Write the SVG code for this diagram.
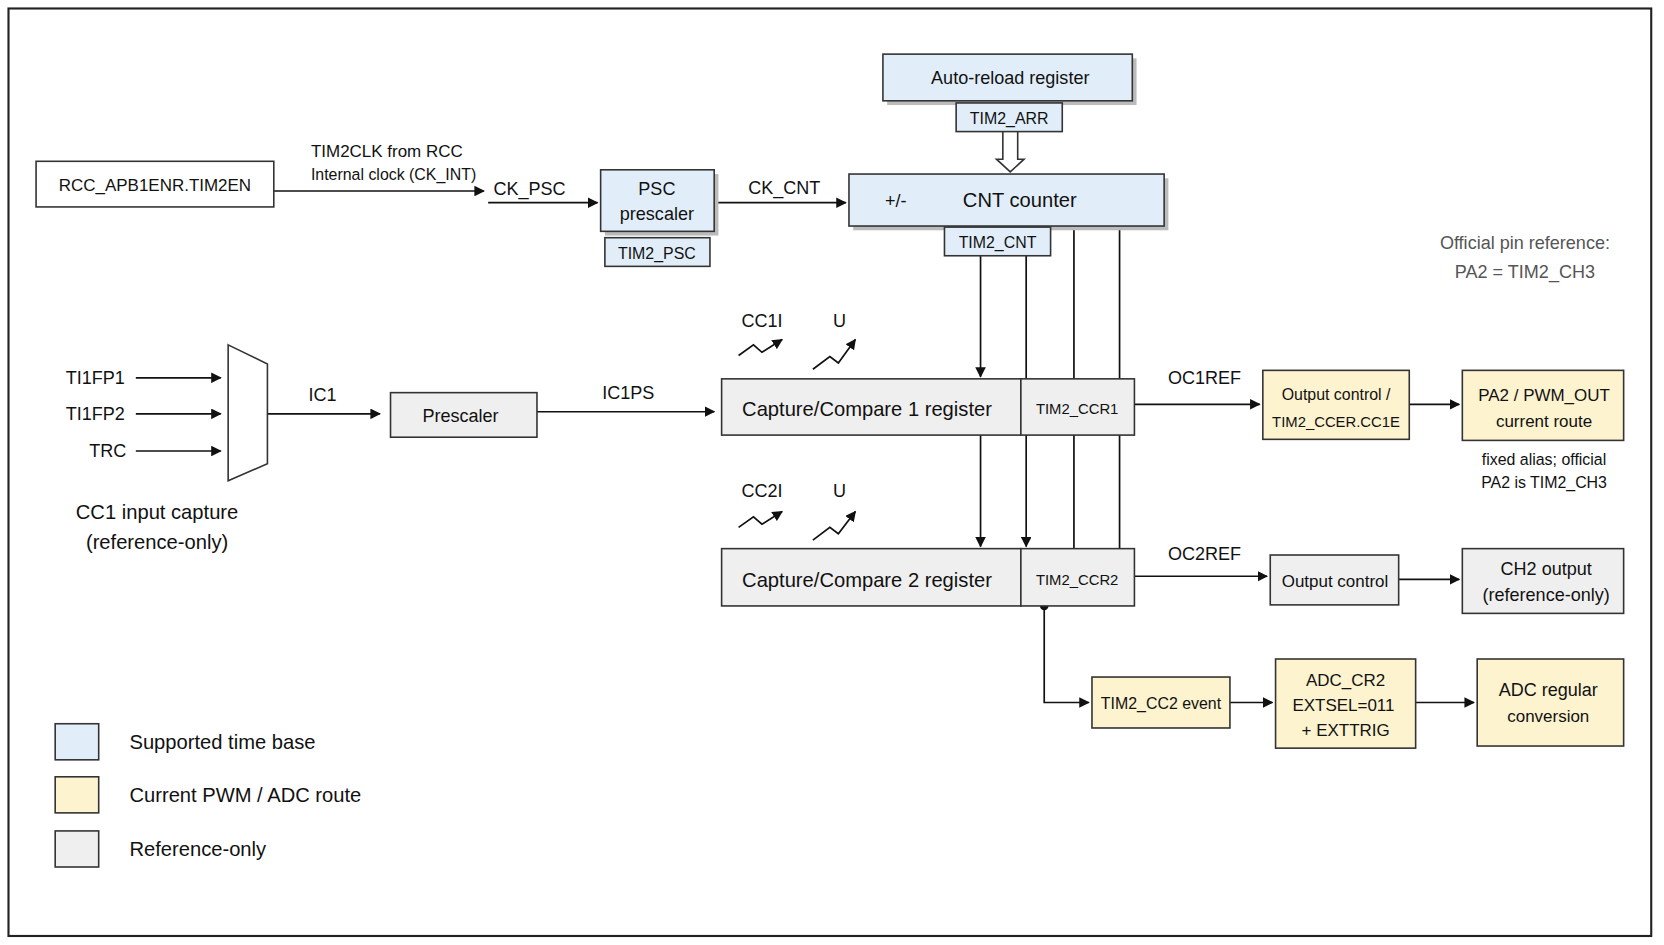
<svg xmlns="http://www.w3.org/2000/svg" width="1664" height="945" viewBox="0 0 1664 945">
<style>
text{font-family:"Liberation Sans",Arial,sans-serif;font-size:17px;fill:#111;text-anchor:middle}
.l{text-anchor:start}
.bx{stroke:#333;stroke-width:1.5}
.blue{fill:#e1eefa}.yel{fill:#fdf3cf}.gray{fill:#efefef}.wh{fill:#fff}
.sh{fill:#bbb}
.ln{stroke:#111;stroke-width:1.6;fill:none}
.arr{marker-end:url(#a)}
.g{fill:#555}
</style>
<defs>
<marker id="a" markerWidth="10" markerHeight="10" refX="9" refY="5" orient="auto" markerUnits="userSpaceOnUse" viewBox="0 0 10 10"><path d="M0,0 L10,5 L0,10 z" fill="#111"/></marker>
</defs>
<rect x="0" y="0" width="1664" height="945" fill="#fff"/>
<g transform="scale(1.0612)">
<rect x="8" y="8" width="1548" height="874" fill="none" stroke="#222" stroke-width="2"/>
<g id="connectors">
<path d="M945,124 V150 H939 L952,162 L965,150 H959 V124" fill="#fff" stroke="#333" stroke-width="1.5"/>
<path class="ln arr" d="M258,180 H456"/>
<path class="ln arr" d="M460,191 H563"/>
<path class="ln arr" d="M673,191 H797"/>
<path class="ln arr" d="M924,241 V355"/>
<path class="ln" d="M967,241 V357 M1012,213 V357 M1055,213 V357 M1012,410 V517 M1055,410 V517"/>
<path class="ln arr" d="M924,410 V515"/>
<path class="ln arr" d="M967,410 V515"/>
<path class="ln arr" d="M696,335 L710,325 L718,332 L737,320"/>
<path class="ln arr" d="M766,348 L782,336 L790,342 L806,320"/>
<path class="ln arr" d="M696,497 L710,487 L718,494 L737,482"/>
<path class="ln arr" d="M766,509 L782,497 L790,503 L806,482"/>
<path class="ln arr" d="M1069,381 H1187"/>
<path class="ln arr" d="M1328,381 H1375"/>
<path class="ln arr" d="M1069,543 H1194"/>
<path class="ln arr" d="M1318,546 H1375"/>
<circle cx="984" cy="571" r="4" fill="#111"/>
<path class="ln arr" d="M984,571 V662 H1026"/>
<path class="ln arr" d="M1159,662 H1199"/>
<path class="ln arr" d="M1334,662 H1389"/>
<path class="ln arr" d="M128,356 H208"/>
<path class="ln arr" d="M128,390 H208"/>
<path class="ln arr" d="M128,425 H208"/>
<path class="ln arr" d="M252,390 H358"/>
<path class="ln arr" d="M506,388 H673"/>
</g>
<g id="arr-reg"><rect class="sh" x="836" y="55" width="235" height="44"/><rect class="bx blue" x="832" y="51" width="235" height="44"/><text x="952" y="79">Auto-reload register</text></g>
<g id="tim2-arr"><rect class="bx blue" x="901" y="97" width="100" height="27"/><text x="951" y="117" style="font-size:15px">TIM2_ARR</text></g>
<g id="rcc"><rect class="bx wh" x="34" y="152" width="224" height="43"/><text x="146" y="180" style="font-size:16px">RCC_APB1ENR.TIM2EN</text></g>
<g id="psc"><rect class="sh" x="570" y="164" width="107" height="58"/><rect class="bx blue" x="566" y="160" width="107" height="58"/><text x="619" y="184">PSC</text><text x="619" y="207">prescaler</text></g>
<g id="tim2-psc"><rect class="bx blue" x="570" y="224" width="99" height="27"/><text x="619" y="244" style="font-size:15px">TIM2_PSC</text></g>
<g id="cnt"><rect class="sh" x="804" y="168" width="297" height="49"/><rect class="bx blue" x="800" y="164" width="297" height="49"/><text x="844" y="195">+/-</text><text x="961" y="195" style="font-size:19px">CNT counter</text></g>
<g id="tim2-cnt"><rect class="bx blue" x="890" y="214" width="100" height="27"/><text x="940" y="234" style="font-size:15px">TIM2_CNT</text></g>
<g id="cc1"><rect class="bx gray" x="680" y="357" width="282" height="53"/><text x="817" y="392" style="font-size:19px">Capture/Compare 1 register</text><rect class="bx gray" x="962" y="357" width="107" height="53"/><text x="1015" y="390" style="font-size:14px">TIM2_CCR1</text></g>
<g id="cc2"><rect class="bx gray" x="680" y="517" width="282" height="54"/><text x="817" y="553" style="font-size:19px">Capture/Compare 2 register</text><rect class="bx gray" x="962" y="517" width="107" height="54"/><text x="1015" y="551" style="font-size:14px">TIM2_CCR2</text></g>
<g id="mux"><path d="M215,325 L252,343 L252,437 L215,453 Z" fill="#fff" stroke="#333" stroke-width="1.5"/></g>
<g id="prescaler"><rect class="bx gray" x="368" y="370" width="138" height="42"/><text x="434" y="398">Prescaler</text></g>
<g id="oc1"><rect class="bx yel" x="1190" y="349" width="138" height="65"/><text x="1259" y="377" style="font-size:15px">Output control /</text><text x="1259" y="402" style="font-size:14px">TIM2_CCER.CC1E</text></g>
<g id="pa2"><rect class="bx yel" x="1378" y="349" width="152" height="66"/><text x="1455" y="378" style="font-size:16px">PA2 / PWM_OUT</text><text x="1455" y="402" style="font-size:16px">current route</text></g>
<g id="oc2"><rect class="bx gray" x="1197" y="523" width="121" height="47"/><text x="1258" y="553" style="font-size:16px">Output control</text></g>
<g id="ch2"><rect class="bx gray" x="1378" y="517" width="152" height="61"/><text x="1457" y="542">CH2 output</text><text x="1457" y="566">(reference-only)</text></g>
<g id="cc2ev"><rect class="bx yel" x="1029" y="638" width="130" height="48"/><text x="1094" y="668" style="font-size:15px">TIM2_CC2 event</text></g>
<g id="adccr2"><rect class="bx yel" x="1202" y="621" width="132" height="84"/><text x="1268" y="646" style="font-size:16px">ADC_CR2</text><text x="1266" y="670" style="font-size:16px">EXTSEL=011</text><text x="1268" y="694" style="font-size:16px">+ EXTTRIG</text></g>
<g id="adcreg"><rect class="bx yel" x="1392" y="621" width="138" height="82"/><text x="1459" y="656">ADC regular</text><text x="1459" y="680" style="font-size:16px">conversion</text></g>
<g id="labels">
<text class="l" x="293" y="148" style="font-size:16px">TIM2CLK from RCC</text>
<text class="l" x="293" y="170" style="font-size:15px">Internal clock (CK_INT)</text>
<text x="499" y="184">CK_PSC</text><text x="739" y="183">CK_CNT</text>
<text x="718" y="308">CC1I</text><text x="791" y="308">U</text>
<text x="718" y="468">CC2I</text><text x="791" y="468">U</text>
<text class="g" x="1437" y="235">Official pin reference:</text>
<text class="g" x="1437" y="262">PA2 = TIM2_CH3</text>
<text x="1135" y="362">OC1REF</text><text x="1135" y="528">OC2REF</text>
<text x="1455" y="438" style="font-size:15px">fixed alias; official</text>
<text x="1455" y="460" style="font-size:15px">PA2 is TIM2_CH3</text>
<text class="l" x="62" y="362">TI1FP1</text><text class="l" x="62" y="396">TI1FP2</text><text class="l" x="84" y="431">TRC</text>
<text x="304" y="378">IC1</text><text x="592" y="376">IC1PS</text>
<text x="148" y="489" style="font-size:19px">CC1 input capture</text>
<text x="148" y="517" style="font-size:19px">(reference-only)</text>
</g>
<g id="legend">
<rect class="bx blue" x="52" y="682" width="41" height="34"/><text class="l" x="122" y="706" style="font-size:19px">Supported time base</text>
<rect class="bx yel" x="52" y="732" width="41" height="34"/><text class="l" x="122" y="756" style="font-size:19px">Current PWM / ADC route</text>
<rect class="bx gray" x="52" y="783" width="41" height="34"/><text class="l" x="122" y="807" style="font-size:19px">Reference-only</text>
</g>
</g>
</svg>
